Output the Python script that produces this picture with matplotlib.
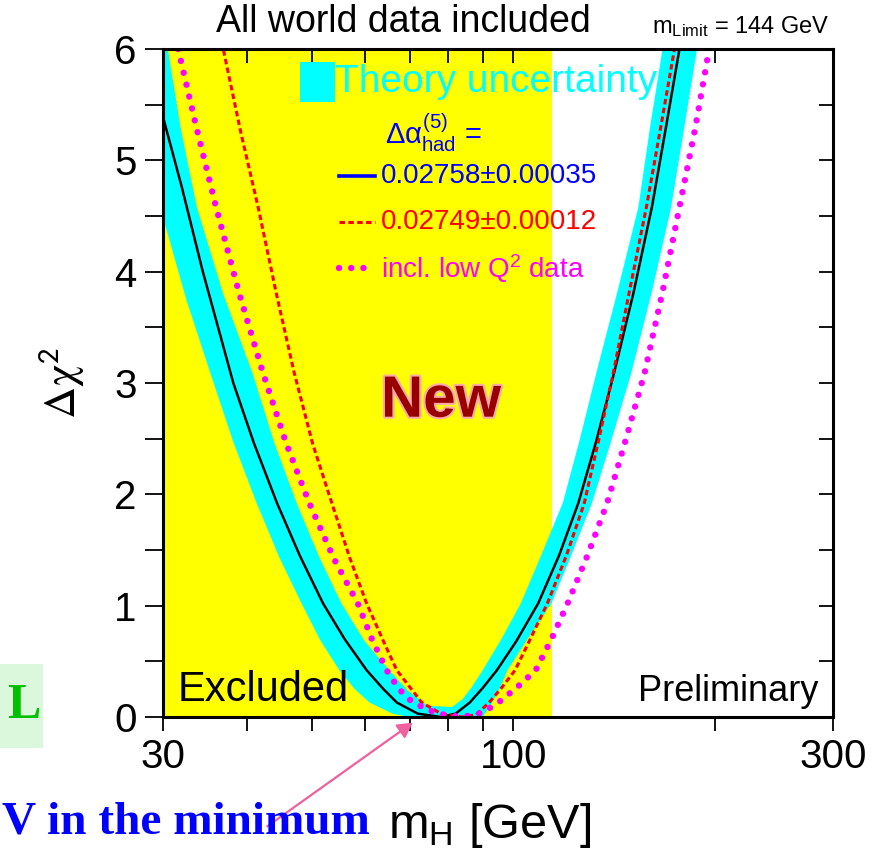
import matplotlib
matplotlib.use("Agg")
import matplotlib.pyplot as plt
import matplotlib.patheffects as pe
from matplotlib.patches import Rectangle, FancyArrowPatch
from matplotlib.lines import Line2D
from matplotlib.ticker import FixedLocator, NullFormatter

plt.rcParams['font.family'] = ['Liberation Sans', 'DejaVu Sans']
plt.rcParams['mathtext.fontset'] = 'custom'
plt.rcParams['mathtext.rm'] = 'Liberation Sans'
plt.rcParams['mathtext.it'] = 'Liberation Sans'
plt.rcParams['mathtext.bf'] = 'Liberation Sans:bold'

# Δχ² curves (mH in GeV, Δχ²)
black_m = [30, 32, 34.4, 38.2, 41, 44.4, 48, 52, 56, 60.4, 64, 67, 72, 78,
           82, 86.1, 90, 94.5, 101, 108.9, 117, 125, 133, 141.5, 151, 161, 169, 177, 180]
black_d = [5.39, 4.76, 4.0, 3.0, 2.46, 1.92, 1.45, 1.02, 0.70, 0.42, 0.25, 0.13, 0.03, 0.0,
           0.03, 0.13, 0.26, 0.42, 0.68, 1.02, 1.45, 1.92, 2.48, 3.1, 3.8, 4.58, 5.3, 6.0, 6.3]

red_m = [36.0, 36.9, 39.2, 41.6, 44.3, 47.1, 50.2, 53.6, 57, 60.4, 64, 67, 73, 78, 84,
         88, 92, 96, 100.6, 106, 112.4, 120, 127.6, 134, 141, 149, 158, 166, 174, 178]
red_d = [6.3, 6.0, 5.25, 4.58, 3.8, 3.09, 2.45, 1.92, 1.43, 1.02, 0.68, 0.42, 0.13, 0.03, 0.0,
         0.02, 0.13, 0.26, 0.42, 0.70, 1.02, 1.45, 1.92, 2.48, 3.09, 3.82, 4.58, 5.3, 6.0, 6.3]

mag_m = [31.6, 33.7, 36.0, 39.0, 42.3, 45.8, 49.6, 54, 58.6, 61.5, 64.7, 67.5, 70.8, 77, 84,
         90, 95, 101, 108, 114, 120.5, 129, 138, 147, 157, 167, 177, 187, 196]
mag_d = [6.0, 5.28, 4.58, 3.8, 3.09, 2.46, 1.92, 1.42, 1.02, 0.70, 0.42, 0.25, 0.13, 0.03, 0.0,
         0.04, 0.13, 0.26, 0.42, 0.70, 1.02, 1.45, 1.92, 2.48, 3.09, 3.82, 4.58, 5.3, 6.0]

# theory band: outer edge (lower Δχ²) and inner edge (higher Δχ²)
outer_m = [30, 30, 32.5, 35.3, 38.2, 41.4, 44.7, 48.3, 51.5, 55.0, 58, 61, 66, 70,
           90, 93, 95.5, 98, 105, 114, 122, 131, 140, 150, 161, 172, 180, 188, 191]
outer_d = [6.3, 4.49, 3.75, 3.09, 2.47, 1.92, 1.44, 1.02, 0.69, 0.42, 0.25, 0.13, 0.03, 0.0,
           0.0, 0.13, 0.26, 0.42, 0.70, 1.02, 1.45, 1.92, 2.48, 3.09, 3.82, 4.58, 5.3, 6.0, 6.3]
inner_m = [30.6, 30.5, 31.9, 33.7, 36.9, 40.8, 44, 47.5, 51.3, 55.4, 60, 65.3, 69.5, 74.5, 81,
           84, 86.5, 90, 96, 102.6, 110, 118.5, 125.5, 133, 143, 153.7, 160, 167, 169]
inner_d = [6.3, 6.0, 5.28, 4.58, 3.8, 3.09, 2.46, 1.92, 1.44, 1.02, 0.68, 0.42, 0.24, 0.10, 0.09,
           0.16, 0.26, 0.42, 0.70, 1.02, 1.45, 1.92, 2.48, 3.09, 3.82, 4.58, 5.3, 6.0, 6.3]

lep_limit = 114.4
x_ticks = [30, 100, 300]
x_minor = [40, 50, 60, 70, 80, 90, 200]

fig = plt.figure(figsize=(8.81, 8.59), dpi=100)
ax = fig.add_axes([163/881, 142/859, 670/881, 668/859])
ax.set_xscale('log')
ax.set_xlim(30, 300)
ax.set_ylim(0, 6)

ax.axvspan(30, lep_limit, color='#ffff00', lw=0, zorder=0)

band_m = outer_m + inner_m[::-1]
band_d = outer_d + inner_d[::-1]
ax.fill(band_m, band_d, color='#00ffff', lw=0, zorder=1)

ax.plot(black_m, black_d, color='black', lw=1.8, zorder=3)
ax.plot(red_m, red_d, color='red', lw=2.2, ls=(0, (1.8, 1.1)), zorder=3)
ax.plot(mag_m, mag_d, color='#ff00ff', lw=4.6, ls=(0, (0.01, 1.9)),
        dash_capstyle='round', zorder=3)

# axes styling
for s in ax.spines.values():
    s.set_linewidth(2.2)
    s.set_zorder(5)
ax.xaxis.set_major_locator(FixedLocator(x_ticks))
ax.xaxis.set_minor_locator(FixedLocator(x_minor))
ax.xaxis.set_minor_formatter(NullFormatter())
ax.set_xticklabels([str(t) for t in x_ticks])
ax.yaxis.set_major_locator(FixedLocator([0, 1, 2, 3, 4, 5, 6]))
ax.yaxis.set_minor_locator(FixedLocator([0.5, 1.5, 2.5, 3.5, 4.5, 5.5]))
ax.tick_params(axis='both', which='both', width=1.3, labelsize=29)
ax.tick_params(axis='x', which='both', direction='out', length=10, pad=5, top=False)
ax.tick_params(axis='y', which='both', direction='out', length=13, pad=6, right=False)
# inward ticks on top and right
axr = ax.secondary_yaxis('right')
axr.yaxis.set_major_locator(FixedLocator([0, 1, 2, 3, 4, 5, 6]))
axr.yaxis.set_minor_locator(FixedLocator([0.5, 1.5, 2.5, 3.5, 4.5, 5.5]))
axr.tick_params(which='both', direction='in', length=10, width=1.3, labelright=False)
axr.spines['right'].set_visible(False)
axt = ax.secondary_xaxis('top')
axt.xaxis.set_major_locator(FixedLocator(x_ticks))
axt.xaxis.set_minor_locator(FixedLocator(x_minor))
axt.tick_params(which='both', direction='in', length=10, width=1.3, labeltop=False)
axt.spines['top'].set_visible(False)

ax.set_ylabel(r'$\mathrm{\Delta\chi}^{\mathsf{2}}$', fontsize=32, labelpad=20,
              math_fontfamily='stix')
fig.text(490/881, 1 - 826/859, r'm$_{\rm H}$ [GeV]', fontsize=35, ha='center', va='center')

# legend drawn by hand
ax.add_patch(Rectangle((0.2045, 0.921), 0.052, 0.06, transform=ax.transAxes,
                       color='#00ffff', lw=0, zorder=6))
ax.text(0.257, 0.951, 'Theory uncertainty', transform=ax.transAxes, color='#00ffff',
        fontsize=28, va='center', ha='left', zorder=6)
ax.text(0.331, 0.874, r'$\Delta\alpha^{(5)}_{\rm had}$ =', transform=ax.transAxes,
        color='#0000ff', fontsize=21, va='center', ha='left', zorder=6)
legend_rows = [('0.02758\u00b10.00035', '#0000ff', dict(lw=2.6, ls='-'), 0.810),
               ('0.02749\u00b10.00012', 'red', dict(lw=2.2, ls=(0, (1.8, 1.1))), 0.741),
               ('incl. low Q$^2$ data', '#ff00ff',
                dict(lw=4.6, ls=(0, (0.01, 1.9)), dash_capstyle='round'), 0.672)]
for label, col, style, yy in legend_rows:
    ax.add_line(Line2D([0.262, 0.316], [yy, yy], transform=ax.transAxes,
                       color=col, zorder=6, **style))
    ax.text(0.325, yy, label, transform=ax.transAxes, color=col, fontsize=20,
            va='center', ha='left', zorder=6)

ax.text(0.022, 0.040, 'Excluded', transform=ax.transAxes, fontsize=30,
        va='center', ha='left', zorder=6)
ax.text(0.978, 0.038, 'Preliminary', transform=ax.transAxes, fontsize=26,
        va='center', ha='right', zorder=6)
ax.text(0.415, 0.472, 'New', transform=ax.transAxes, fontsize=42, fontweight='bold',
        color='#990000', va='center', ha='center', zorder=6,
        path_effects=[pe.withStroke(linewidth=3, foreground='#ffaaaa')])

fig.text(403/881, 1 - 22/859, 'All world data included', fontsize=27,
         ha='center', va='center')
fig.text(830/881, 1 - 27/859, r'm$_{\rm Limit}$ = 144 GeV', fontsize=17,
         ha='right', va='center')

# slide decorations around the plot
fig.patches.append(Rectangle((0, 1 - 748/859), 43/881, 84/859, transform=fig.transFigure,
                             facecolor='#dcf8dc', edgecolor='none', zorder=0))
fig.text(40/881, 1 - 706/859, 'L', fontsize=36, fontweight='bold', color='#00c000',
         family='Liberation Serif', ha='right', va='center')
fig.text(370/881, 1 - 822/859, 'V in the minimum', fontsize=34, fontweight='bold',
         color='#0000ff', family='Liberation Serif', ha='right', va='center')
fig.add_artist(FancyArrowPatch(
    (265/881, 1 - 828/859), (415/881, 1 - 721/859), transform=fig.transFigure,
    arrowstyle='-|>,head_length=9,head_width=5', color='#f0609e', lw=1.6))

fig.savefig('out.png', dpi=100)
